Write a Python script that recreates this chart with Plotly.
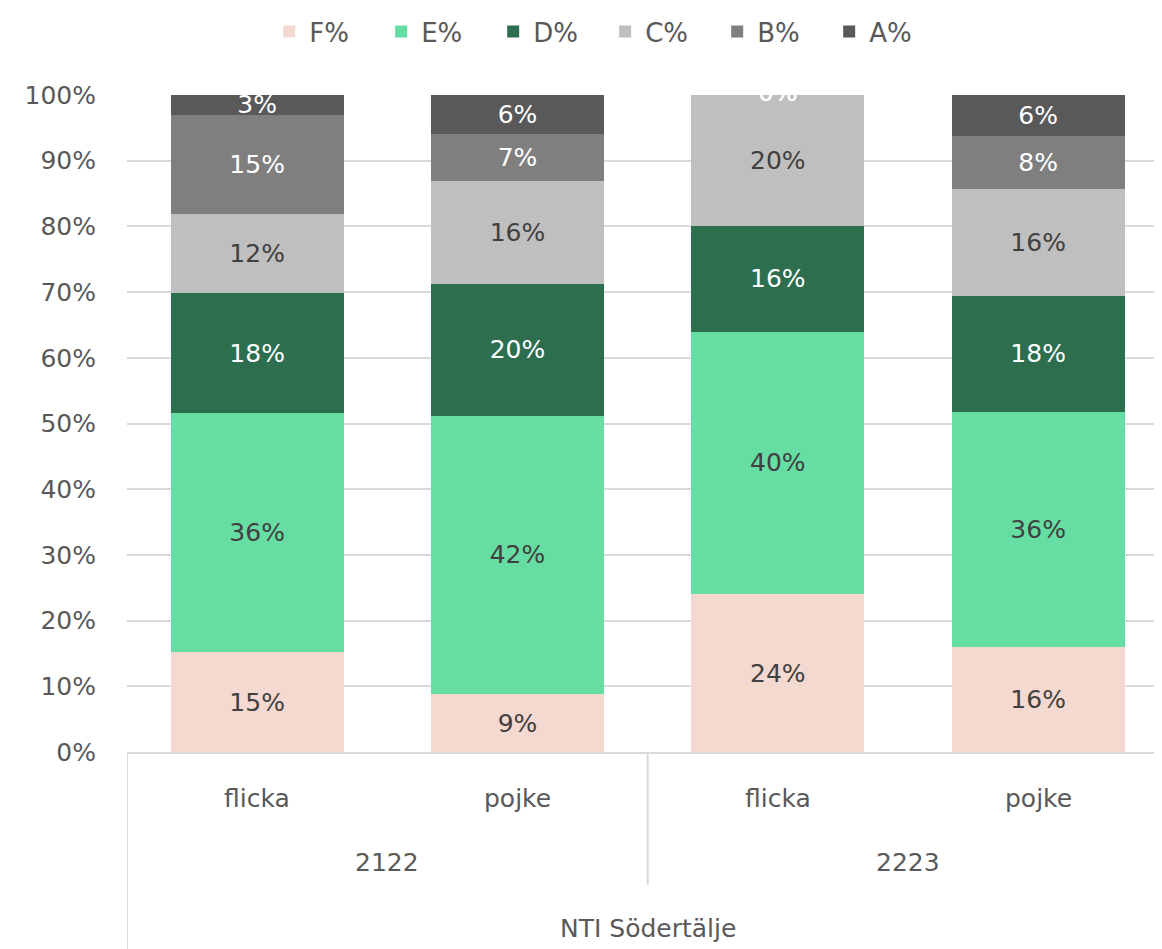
import plotly.graph_objects as go

# ---- data ----
categories = ["flicka", "pojke", "flicka", "pojke"]
years = ["2122", "2223"]
school = "NTI Södertälje"
series_names = ["F%", "E%", "D%", "C%", "B%", "A%"]
F = [15.2, 8.8, 24.0, 16.0]
E = [36.4, 42.4, 40.0, 35.8]
D = [18.2, 20.1, 16.0, 17.6]
C = [12.1, 15.6, 20.0, 16.3]
B = [15.1, 7.2, 0.0, 8.1]
A = [3.0, 5.9, 0.0, 6.2]
y_ticks = [0, 10, 20, 30, 40, 50, 60, 70, 80, 90, 100]
y_ticktext = [f"{v}%" for v in y_ticks]

series_values = [F, E, D, C, B, A]
colors = ["#F4D9D0", "#66DDA3", "#2D6E4F", "#BFBFBF", "#7F7F7F", "#595959"]
text_colors = ["#404040", "#404040", "#FFFFFF", "#404040", "#FFFFFF", "#FFFFFF"]

FONT = "DejaVu Sans"
GRAY = "#595959"
xpos = list(range(len(categories)))

fig = go.Figure()
for name, vals, col, tcol in zip(series_names, series_values, colors, text_colors):
    fig.add_trace(go.Bar(
        x=xpos, y=vals, name=name, marker=dict(color=col, line=dict(width=0)),
        width=0.665,
        texttemplate="%{y:.0f}%", textposition="inside", insidetextanchor="middle",
        textangle=0, textfont=dict(family=FONT, size=25, color=tcol),
        hoverinfo="name+y",
    ))

# labels for zero-height segments (drawn at their stacked position)
zx, zy, zt = [], [], []
for i in xpos:
    cum = 0.0
    for vals in series_values:
        if vals[i] == 0:
            zx.append(i); zy.append(cum); zt.append("0%")
        cum += vals[i]
fig.add_trace(go.Scatter(x=zx, y=zy, text=zt, mode="text", showlegend=False,
                         textfont=dict(family=FONT, size=25, color="#FFFFFF"),
                         textposition="middle center", cliponaxis=True, hoverinfo="skip"))

# page body adds an 8px offset; compensate
L, T, B_, W, H = 119, 86, 197, 1154, 941
plot_h = H - T - B_

fig.update_layout(
    width=W, height=H, barmode="stack",
    margin=dict(l=L, r=0, t=T, b=B_),
    paper_bgcolor="white", plot_bgcolor="white",
    font=dict(family=FONT, size=25, color=GRAY),
    uniformtext=dict(minsize=25, mode="show"),
    legend=dict(orientation="h", x=0.462, xanchor="center", y=1 + (94 - 30) / plot_h,
                yanchor="middle", traceorder="normal", entrywidth=67, entrywidthmode="pixels",
                font=dict(family=FONT, size=26, color=GRAY), itemwidth=30),
    xaxis=dict(range=[-0.5, 3.476], showticklabels=False, ticks="", showgrid=False,
               zeroline=False, showline=True, linecolor="#D9D9D9", linewidth=2, fixedrange=True),
    yaxis=dict(range=[0, 100], tickvals=y_ticks, ticktext=y_ticktext, showgrid=True,
               gridcolor="#D9D9D9", gridwidth=2, zeroline=False, ticks="",
               ticklabelstandoff=30, tickfont=dict(family=FONT, size=25, color=GRAY)),
    showlegend=True,
)

# category axis labels
for i, cat in enumerate(categories):
    fig.add_annotation(x=i, y=0, xref="x", yref="paper", text=cat, showarrow=False,
                       yanchor="middle", yshift=-46, font=dict(family=FONT, size=25, color=GRAY))
for j, yr in enumerate(years):
    fig.add_annotation(x=2 * j + 0.5, y=0, xref="x", yref="paper", text=yr, showarrow=False,
                       yanchor="middle", yshift=-110, font=dict(family=FONT, size=25, color=GRAY))
fig.add_annotation(x=1.5, y=0, xref="x", yref="paper", text=school, showarrow=False,
                   yanchor="middle", yshift=-176, font=dict(family=FONT, size=25, color=GRAY))

# category divider lines
fig.add_shape(type="line", xref="x", yref="paper", x0=-0.5, x1=-0.5, y0=0, y1=-B_ / plot_h,
              line=dict(color="#D9D9D9", width=2))
fig.add_shape(type="line", xref="x", yref="paper", x0=1.5, x1=1.5, y0=0, y1=-(885 - 752) / plot_h,
              line=dict(color="#D9D9D9", width=2))

fig.write_html("out.html")
